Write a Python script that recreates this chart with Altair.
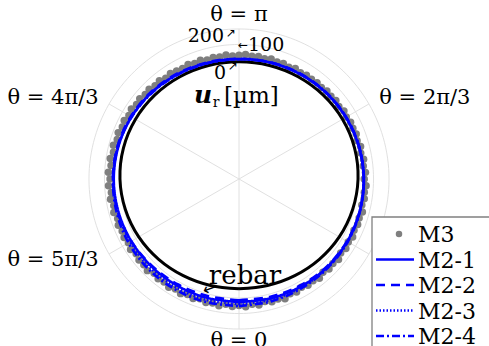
import altair as alt
import numpy as np
import pandas as pd

# canvas and polar frame (pixels)
W, H = 489, 346
CX, CY = 239, 179          # pole of the polar frame
K = 0.155                  # pixels per µm of radial displacement
R0 = 768.0                 # rebar radius, in µm-sized plotting units

SERIF = "DejaVu Serif"
BLUE = "#0000ff"

# ---- data: radial displacement u_r [µm] versus angle θ [deg] ----
theta_line = list(range(0, 361, 15))
m2_1 = [26, 28, 32, 36, 38, 38, 36, 33, 28, 22, 15, 10, 6, 8, 15, 25, 33, 38, 40, 38, 34, 30, 27, 26, 26]
m2_2 = [14, 18, 25, 32, 36, 38, 38, 35, 30, 25, 18, 12, 8, 12, 20, 30, 38, 44, 45, 42, 35, 25, 18, 14, 14]
m2_3 = [39, 38, 38, 40, 40, 38, 36, 33, 28, 22, 15, 10, 5, 7, 14, 24, 34, 40, 42, 42, 42, 42, 41, 40, 39]
m2_4 = [52, 48, 44, 42, 42, 40, 38, 35, 30, 24, 16, 10, 5, 6, 12, 22, 32, 40, 45, 50, 55, 56, 55, 54, 52]
rebar = [-60, -57, -48, -35, -21, -9, 0, 4, 3, -1, -6, -10, -12, -10, -6, -1, 3, 4, 0, -9, -21, -35, -48, -57, -60]

theta_m3 = list(range(0, 360, 3))
m3 = [
    48, 58, 44, 55, 40, 52, 46, 60, 42, 50,
    38, 49, 44, 56, 41, 53, 47, 58, 43, 54,
    46, 55, 44, 52, 47, 56, 42, 50, 45, 53,
    40, 49, 38, 46, 35, 44, 33, 42, 36, 40,
    31, 39, 28, 36, 30, 34, 26, 32, 27, 31,
    24, 32, 22, 30, 26, 34, 25, 33, 28, 36,
    31, 26, 36, 29, 34, 27, 38, 30, 40, 33,
    37, 44, 36, 48, 41, 52, 46, 56, 49, 60,
    52, 63, 56, 67, 58, 71, 60, 73, 62, 76,
    64, 75, 60, 71, 58, 68, 55, 66, 57, 64,
    56, 66, 52, 62, 58, 68, 50, 61, 54, 64,
    52, 62, 48, 58, 45, 57, 50, 60, 44, 55,
]

r_ticks = [0, 100, 200]
# angular labels (the π/3 one sits under the legend box and is left out)
theta_ticks = [0, 120, 180, 240, 300]
theta_tick_text = ["θ = 0", "θ = 2π/3", "θ = π", "θ = 4π/3", "θ = 5π/3"]
spoke_angles = [0, 60, 120, 180, 240, 300]
legend_names = ["M3", "M2-1", "M2-2", "M2-3", "M2-4"]

# ---- polar -> cartesian (θ = 0 at the bottom, counter-clockwise) ----
xs = alt.Scale(domain=[-CX / K, (W - CX) / K], nice=False, zero=False)
ys = alt.Scale(domain=[-(H - CY) / K, CY / K], nice=False, zero=False)
PX = f"({R0} + datum.u) * sin(datum.theta * PI / 180)"
PY = f"-({R0} + datum.u) * cos(datum.theta * PI / 180)"


def polar(df):
    return alt.Chart(df).transform_calculate(px=PX, py=PY)


def xy(**kw):
    return dict(x=alt.X("px:Q", scale=xs, axis=None),
                y=alt.Y("py:Q", scale=ys, axis=None), **kw)


layers = []

# grid circles
grid_theta = list(range(0, 361, 2))
grid_df = pd.DataFrame([(t, r) for r in r_ticks for t in grid_theta], columns=["theta", "u"])
layers.append(polar(grid_df).mark_line(color="#dddddd", strokeWidth=0.9)
              .encode(**xy(detail="u:N", order="theta:Q")))

# spokes
spoke_df = pd.DataFrame({"theta": spoke_angles, "u": [r_ticks[-1]] * len(spoke_angles)})
layers.append(polar(spoke_df).transform_calculate(ox="0", oy="0")
              .mark_rule(color="#dddddd", strokeWidth=0.9)
              .encode(**xy(x2="ox:Q", y2="oy:Q")))

# measured displacement (M3)
m3_df = pd.DataFrame({"theta": theta_m3, "u": m3})
layers.append(polar(m3_df).mark_circle(color="#7f7f7f", size=56, opacity=1).encode(**xy()))

# rebar outline
rebar_df = pd.DataFrame({"theta": theta_line, "u": rebar})
layers.append(polar(rebar_df).mark_line(color="black", strokeWidth=3, interpolate="catmull-rom")
              .encode(**xy(order="theta:Q")))

# simulated displacement (M2-x)
dashes = {"M2-1": [1, 0], "M2-2": [9, 6], "M2-3": [1.5, 2], "M2-4": [8, 3, 2, 3]}
for name, vals in zip(["M2-1", "M2-2", "M2-3", "M2-4"], [m2_1, m2_2, m2_3, m2_4]):
    df = pd.DataFrame({"theta": theta_line, "u": vals})
    layers.append(polar(df).mark_line(color=BLUE, strokeWidth=2.6, strokeDash=dashes[name],
                                      interpolate="catmull-rom")
                  .encode(**xy(order="theta:Q")))

# angular tick labels
U_LAB = 162 / K - R0
lab_df = pd.DataFrame({"theta": theta_ticks, "u": [U_LAB] * len(theta_ticks), "txt": theta_tick_text})
for align, sel, dy in [("center", [0], 0), ("center", [180], -2), ("left", [60, 120], 0),
                       ("right", [240, 300], 0)]:
    layers.append(polar(lab_df).transform_filter(alt.FieldOneOfPredicate(field="theta", oneOf=sel))
                  .mark_text(font=SERIF, fontSize=21, align=align, baseline="middle", dy=dy,
                             color="black")
                  .encode(**xy(text="txt:N")))

# radial tick labels with pointer arrows
rt_df = pd.DataFrame({"theta": [180] * 3, "u": r_ticks, "txt": ["0", "100", "200"]})
tick_style = {"0": ("right", -13, 13), "100": ("left", 9, 1), "200": ("right", -15, 7)}
arrow_style = {"0": ("↗", -6, 6), "100": ("←", 4, 1), "200": ("↗", -8, 4)}
for t in ["0", "100", "200"]:
    al, dx, dy = tick_style[t]
    one = polar(rt_df).transform_filter(alt.datum.txt == t)
    layers.append(one.mark_text(font=SERIF, fontSize=19, align=al, baseline="middle",
                                dx=dx, dy=dy, color="black").encode(**xy(text="txt:N")))
    ch, adx, ady = arrow_style[t]
    layers.append(one.mark_text(text=ch, font="DejaVu Sans", fontSize=12, align="center",
                                baseline="middle", dx=adx, dy=ady, color="black").encode(**xy()))

# radial axis title
one_row = pd.DataFrame({"k": [0]})
layers.append(alt.Chart(one_row).mark_text(text="u", font=SERIF, fontSize=25, fontStyle="italic",
                                           fontWeight="bold", align="center", baseline="middle")
              .encode(x=alt.value(203), y=alt.value(95)))
layers.append(alt.Chart(one_row).mark_text(text="r", font=SERIF, fontSize=14, align="center",
                                           baseline="middle")
              .encode(x=alt.value(216), y=alt.value(103)))
layers.append(alt.Chart(one_row).mark_text(text="[µm]", font=SERIF, fontSize=23, align="left",
                                           baseline="middle")
              .encode(x=alt.value(224), y=alt.value(96)))

# rebar annotation
layers.append(alt.Chart(one_row).mark_text(text="rebar", font=SERIF, fontSize=26, align="center",
                                           baseline="alphabetic")
              .encode(x=alt.value(245), y=alt.value(284)))
layers.append(alt.Chart(one_row).mark_text(text="←", font="DejaVu Sans", fontSize=17, angle=340,
                                           align="center", baseline="middle")
              .encode(x=alt.value(210), y=alt.value(289)))

# legend
LX, LY = 372, 217
layers.append(alt.Chart(one_row).mark_rect(fill="white", stroke="#808080", strokeWidth=1.3)
              .encode(x=alt.value(LX), x2=alt.value(W + 10), y=alt.value(LY), y2=alt.value(H + 10)))
row_y = [LY + 17 + 25.5 * i for i in range(len(legend_names))]
for name, yy in zip(legend_names, row_y):
    if name == "M3":
        layers.append(alt.Chart(one_row).mark_circle(color="#7f7f7f", size=42, opacity=1)
                      .encode(x=alt.value(LX + 27), y=alt.value(yy)))
    else:
        layers.append(alt.Chart(one_row).mark_rule(color=BLUE, strokeWidth=2.5, strokeDash=dashes[name])
                      .encode(x=alt.value(LX + 4), x2=alt.value(LX + 42), y=alt.value(yy)))
    layers.append(alt.Chart(one_row).mark_text(text=name, font=SERIF, fontSize=22, align="left",
                                               baseline="middle")
                  .encode(x=alt.value(LX + 46), y=alt.value(yy + 1)))

chart = (
    alt.layer(*layers)
    .properties(width=W, height=H, padding=0, autosize=alt.AutoSizeParams(type="none"),
                background="white")
    .configure_view(stroke=None)
)

chart.save("out.html", embed_options={"renderer": "svg", "actions": False})
